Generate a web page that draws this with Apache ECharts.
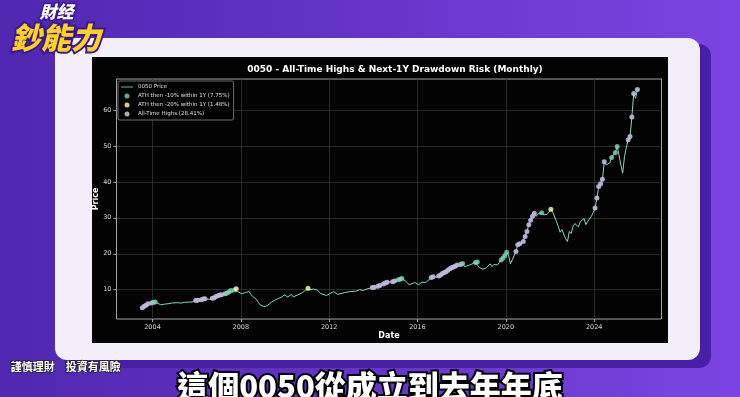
<!DOCTYPE html>
<html>
<head>
<meta charset="utf-8">
<script src="https://cdn.jsdelivr.net/npm/echarts@6/dist/echarts.min.js"></script>
<style>
  html, body { margin: 0; padding: 0; background: #5a2fc0; }
  #main { width: 740px; height: 397px; }
</style>
</head>
<body>
<div id="main"></div>
<script>
// monthly closes (only the months where the line turns)
var months = ['2003-06','2003-07','2003-08','2003-09','2003-10','2003-11','2003-12','2004-01','2004-02','2004-03',
  '2004-05','2004-07','2004-09','2004-11','2005-02','2005-04','2005-06','2005-08','2005-10','2005-12',
  '2006-01','2006-03','2006-04','2006-05','2006-06','2006-08','2006-09','2006-10','2006-11','2006-12',
  '2007-01','2007-02','2007-03','2007-04','2007-05','2007-06','2007-07','2007-08','2007-09','2007-10',
  '2007-11','2007-12','2008-01','2008-03','2008-05','2008-06','2008-07','2008-09','2008-10','2008-11',
  '2008-12','2009-01','2009-02','2009-03','2009-05','2009-07','2009-09','2009-11','2009-12','2010-02',
  '2010-04','2010-05','2010-06','2010-08','2010-10','2010-12','2011-01','2011-02','2011-04','2011-06',
  '2011-07','2011-08','2011-09','2011-11','2011-12','2012-03','2012-05','2012-06','2012-09','2012-12',
  '2013-03','2013-05','2013-07','2013-09','2013-10','2013-12','2014-01','2014-03','2014-04','2014-06',
  '2014-07','2014-08','2014-09','2014-11','2014-12','2015-02','2015-03','2015-04','2015-05','2015-06',
  '2015-08','2015-09','2015-11','2016-01','2016-03','2016-05','2016-07','2016-08','2016-09','2016-11',
  '2016-12','2017-01','2017-02','2017-03','2017-04','2017-05','2017-06','2017-07','2017-08','2017-09',
  '2017-10','2017-11','2017-12','2018-01','2018-02','2018-03','2018-05','2018-06','2018-08','2018-09',
  '2018-10','2018-12','2019-02','2019-04','2019-05','2019-06','2019-08','2019-09','2019-10','2019-11',
  '2019-12','2020-01','2020-02','2020-03','2020-04','2020-05','2020-06','2020-07','2020-08','2020-09',
  '2020-10','2020-11','2020-12','2021-01','2021-02','2021-03','2021-04','2021-05','2021-06','2021-07',
  '2021-08','2021-09','2021-10','2021-11','2021-12','2022-01','2022-02','2022-03','2022-04','2022-05',
  '2022-06','2022-07','2022-08','2022-09','2022-10','2022-11','2022-12','2023-01','2023-02','2023-03',
  '2023-04','2023-05','2023-06','2023-07','2023-08','2023-09','2023-10','2023-11','2023-12','2024-01',
  '2024-02','2024-03','2024-04','2024-05','2024-06','2024-07','2024-08','2024-09','2024-10','2024-11',
  '2024-12','2025-01','2025-02','2025-03','2025-04','2025-05','2025-06','2025-07','2025-08','2025-09',
  '2025-10','2025-11','2025-12'];
var price = [4.6,5.0,5.4,5.7,6.1,6.0,6.3,6.5,6.6,6.4,
  5.8,6.0,6.1,6.3,6.4,6.3,6.5,6.55,6.6,7.0,
  7.1,7.2,7.4,7.5,7.1,7.3,7.6,7.8,8.1,8.3,
  8.5,8.6,8.4,8.9,9.1,9.4,9.8,9.3,9.9,10.3,
  9.4,9.2,8.9,9.2,9.5,8.7,8.1,7.3,6.5,5.8,
  5.5,5.3,5.2,5.6,6.5,7.1,7.6,8.0,8.6,8.0,
  8.7,8.0,8.2,8.7,9.2,10.0,10.4,10.0,10.2,9.9,
  9.8,8.9,8.6,8.4,8.6,9.5,8.7,8.8,9.2,9.5,
  9.6,10.0,9.8,10.2,10.3,10.6,10.7,11.0,11.2,11.6,
  11.9,12.1,11.8,12.2,12.4,12.8,12.9,13.1,12.8,12.4,
  11.4,11.6,12.0,11.4,12.1,12.0,12.9,13.4,13.6,13.5,
  13.8,14.1,14.5,14.8,15.0,15.4,15.8,16.1,16.3,16.5,
  16.9,16.8,17.0,17.3,16.4,16.6,16.9,17.1,17.6,17.7,
  16.2,15.7,16.1,17.2,16.4,17.0,16.9,17.6,18.3,18.8,
  19.5,20.4,19.6,17.2,18.3,18.8,20.6,22.5,22.8,22.6,
  23.4,24.8,26.2,28.1,29.3,30.4,31.3,30.4,31.1,30.6,
  31.4,30.8,30.4,31.0,31.6,32.4,31.6,31.3,29.0,27.6,
  26.0,26.7,27.0,24.2,23.4,26.2,25.6,27.6,28.4,28.0,
  27.5,29.0,29.4,29.8,28.1,29.0,28.6,30.4,31.5,32.7,
  35.5,38.7,39.5,40.7,45.6,44.7,44.2,45.3,46.8,47.5,
  48.1,49.8,47.5,44.7,42.4,47.0,49.6,51.7,52.6,58.0,
  64.6,63.2,65.7];

// all-time-high months, split by what happened in the next 12 months
var athPlain = ['2003-07','2003-08','2003-09','2003-10','2003-12','2005-12','2006-01','2006-03','2006-04','2006-05',
  '2006-09','2006-10','2006-11','2006-12','2007-01','2007-02','2007-04','2013-12','2014-01','2014-03',
  '2014-04','2014-06','2014-07','2014-08','2014-11','2014-12','2016-08','2016-09','2016-12','2017-01',
  '2017-02','2017-03','2017-04','2017-05','2017-06','2017-07','2017-08','2017-09','2017-10','2017-12',
  '2020-06','2020-07','2020-08','2020-10','2020-11','2020-12','2021-01','2021-02','2021-03','2021-04',
  '2024-01','2024-02','2024-03','2024-04','2024-05','2024-06','2025-07','2025-08','2025-09','2025-10','2025-12'];
var ath10 = ['2004-01','2004-02','2007-05','2007-06','2007-07','2007-09','2015-02','2015-03','2015-04','2018-01',
  '2018-08','2018-09','2019-10','2019-11','2019-12','2020-01','2021-08','2024-10','2024-12','2025-01'];
var ath20 = ['2007-10','2011-01','2022-01'];

var xTicks = [2004, 2008, 2012, 2016, 2020, 2024];
var yTicks = [10, 20, 30, 40, 50, 60];

function toYear(m) {
  var p = m.split('-');
  return +p[0] + (+p[1] - 0.5) / 12;
}
var line = months.map(function (m, i) { return [toYear(m), price[i]]; });
function pick(list) {
  return list.map(function (m) { return [toYear(m), price[months.indexOf(m)]]; });
}

var myChart = echarts.init(document.getElementById('main'));
var option = {
  animation: false,
  backgroundColor: {
    type: 'linear', x: 0, y: 0, x2: 1, y2: 0,
    colorStops: [{ offset: 0, color: '#4f27b0' }, { offset: 1, color: '#7b44e2' }]
  },
  graphic: [
    { type: 'rect', z: -10, shape: { x: 63, y: 44, width: 648, height: 324, r: 12 }, style: { fill: '#4a1fa8' } },
    { type: 'rect', z: -9, shape: { x: 55, y: 38, width: 645, height: 322, r: 12 }, style: { fill: '#f2effb' } },
    { type: 'rect', z: -8, shape: { x: 92, y: 57, width: 576, height: 286 }, style: { fill: '#030303' } },
    { type: 'text', z: 50, left: 38, top: 2, style: {
        text: '財经', font: 'italic 900 17px "Noto Sans CJK TC"', fill: '#ffffff',
        stroke: '#3a1890', lineWidth: 3 } },
    { type: 'text', z: 50, left: 9, top: 21, style: {
        text: '鈔能力', font: 'italic 900 30px "Noto Sans CJK TC"', fill: '#ffd21f',
        stroke: '#3a1890', lineWidth: 4 } },
    { type: 'text', z: 50, left: 10, top: 361, style: {
        text: '謹慎理財　投資有風險', font: '700 11px "Noto Sans CJK TC"', fill: '#ffffff',
        stroke: '#222', lineWidth: 1.5 } },
    { type: 'text', z: 50, left: 'center', top: 369, style: {
        text: '這個0050從成立到去年年底', font: '900 31px "Noto Sans CJK TC"', fill: '#ffffff',
        stroke: '#000000', lineWidth: 4 } }
  ],
  title: {
    text: '0050 - All-Time Highs & Next-1Y Drawdown Risk (Monthly)',
    left: 390, top: 60, textAlign: 'center',
    textStyle: { color: '#ffffff', fontFamily: 'DejaVu Sans', fontWeight: 'bold', fontSize: 9 }
  },
  legend: {
    orient: 'vertical', left: 118, top: 81,
    itemWidth: 12, itemHeight: 5, itemGap: 3,
    padding: [3, 4, 3, 3],
    backgroundColor: 'rgba(0,0,0,0.85)', borderColor: '#8a8a8a', borderWidth: 0.8, borderRadius: 2,
    textStyle: { color: '#e0e0e0', fontFamily: 'DejaVu Sans', fontSize: 5.5, padding: [0, 0, 0, 0] },
    data: [
      { name: '0050 Price', icon: 'path://M0,0H14V1H0Z', itemStyle: { color: '#8dd3c7' } },
      { name: 'ATH then -10% within 1Y (7.75%)', icon: 'circle' },
      { name: 'ATH then -20% within 1Y (1.48%)', icon: 'circle' },
      { name: 'All-Time Highs (28.41%)', icon: 'circle' }
    ]
  },
  grid: {
    left: 116.5, top: 79, width: 545, height: 240,
    show: true, borderColor: '#cfcfcf', borderWidth: 0.8, backgroundColor: 'transparent'
  },
  xAxis: {
    type: 'value', min: 2002.37, max: 2027.05,
    name: 'Date', nameLocation: 'middle', nameGap: 13, nameMoveOverlap: false,
    nameTextStyle: { color: '#ffffff', fontFamily: 'DejaVu Sans', fontWeight: 'bold', fontSize: 8 },
    axisLine: { show: false },
    axisTick: { show: true, customValues: xTicks, length: 3, lineStyle: { color: '#cfcfcf', width: 0.8 } },
    axisLabel: { customValues: xTicks, formatter: function (v) { return String(v); },
      color: '#d8d8d8', fontFamily: 'DejaVu Sans', fontSize: 6.5, margin: 5 },
    splitLine: { show: true, lineStyle: { color: '#333333', width: 0.8 } }
  },
  yAxis: {
    type: 'value', min: 1.86, max: 68.6,
    name: 'Price', nameLocation: 'middle', nameGap: 17, nameMoveOverlap: false,
    nameTextStyle: { color: '#ffffff', fontFamily: 'DejaVu Sans', fontWeight: 'bold', fontSize: 8 },
    axisLine: { show: false },
    axisTick: { show: true, customValues: yTicks, length: 3, lineStyle: { color: '#cfcfcf', width: 0.8 } },
    axisLabel: { customValues: yTicks, color: '#d8d8d8', fontFamily: 'DejaVu Sans', fontSize: 6.5, margin: 5 },
    splitLine: { show: true, lineStyle: { color: '#333333', width: 0.8 } }
  },
  series: [
    {
      name: '0050 Price', type: 'line', data: line, showSymbol: false, symbol: 'none',
      lineStyle: { color: '#8dd3c7', width: 1 }, itemStyle: { color: '#8dd3c7' }, z: 2
    },
    {
      name: 'All-Time Highs (28.41%)', type: 'scatter', data: pick(athPlain), symbolSize: 5,
      itemStyle: { color: '#bfbbd9', opacity: 0.9 }, z: 3
    },
    {
      name: 'ATH then -10% within 1Y (7.75%)', type: 'scatter', data: pick(ath10), symbolSize: 5,
      itemStyle: { color: '#7fd6b4' }, z: 4
    },
    {
      name: 'ATH then -20% within 1Y (1.48%)', type: 'scatter', data: pick(ath20), symbolSize: 5,
      itemStyle: { color: '#feffb3' }, z: 5
    }
  ]
};
myChart.setOption(option);
</script>
</body>
</html>
